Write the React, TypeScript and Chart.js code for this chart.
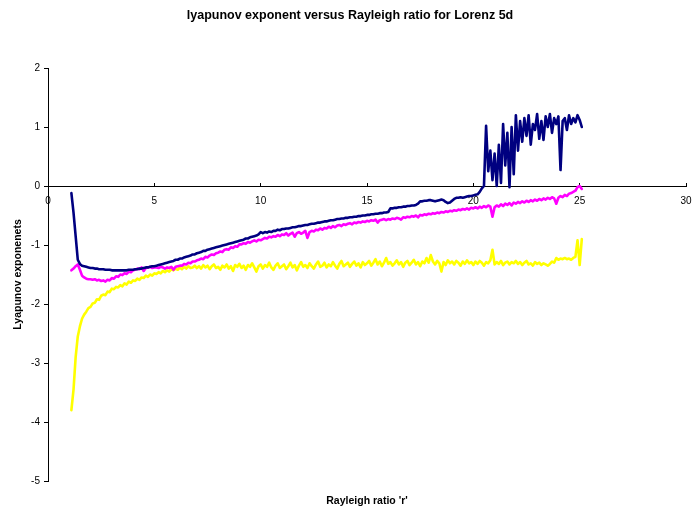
import React, { useEffect, useRef } from "react";
import { Chart, registerables } from "chart.js";

Chart.register(...registerables);

const TITLE = "lyapunov exponent versus Rayleigh ratio for Lorenz 5d";
const X_TITLE = "Rayleigh ratio 'r'";
const Y_TITLE = "Lyapunov exponenets";

const R = [
  1.1, 1.2, 1.3, 1.4, 1.5, 1.6, 1.7, 1.8, 1.9, 2.0,
  2.1, 2.2, 2.3, 2.4, 2.5, 2.6, 2.7, 2.8, 2.9, 3.0,
  3.1, 3.2, 3.3, 3.4, 3.5, 3.6, 3.7, 3.8, 3.9, 4.0,
  4.1, 4.2, 4.3, 4.4, 4.5, 4.6, 4.7, 4.8, 4.9, 5.0,
  5.1, 5.2, 5.3, 5.4, 5.5, 5.6, 5.7, 5.8, 5.9, 6.0,
  6.1, 6.2, 6.3, 6.4, 6.5, 6.6, 6.7, 6.8, 6.9, 7.0,
  7.1, 7.2, 7.3, 7.4, 7.5, 7.6, 7.7, 7.8, 7.9, 8.0,
  8.1, 8.2, 8.3, 8.4, 8.5, 8.6, 8.7, 8.8, 8.9, 9.0,
  9.1, 9.2, 9.3, 9.4, 9.5, 9.6, 9.7, 9.8, 9.9, 10.0,
  10.1, 10.2, 10.3, 10.4, 10.5, 10.6, 10.7, 10.8, 10.9, 11.0,
  11.1, 11.2, 11.3, 11.4, 11.5, 11.6, 11.7, 11.8, 11.9, 12.0,
  12.1, 12.2, 12.3, 12.4, 12.5, 12.6, 12.7, 12.8, 12.9, 13.0,
  13.1, 13.2, 13.3, 13.4, 13.5, 13.6, 13.7, 13.8, 13.9, 14.0,
  14.1, 14.2, 14.3, 14.4, 14.5, 14.6, 14.7, 14.8, 14.9, 15.0,
  15.1, 15.2, 15.3, 15.4, 15.5, 15.6, 15.7, 15.8, 15.9, 16.0,
  16.1, 16.2, 16.3, 16.4, 16.5, 16.6, 16.7, 16.8, 16.9, 17.0,
  17.1, 17.2, 17.3, 17.4, 17.5, 17.6, 17.7, 17.8, 17.9, 18.0,
  18.1, 18.2, 18.3, 18.4, 18.5, 18.6, 18.7, 18.8, 18.9, 19.0,
  19.1, 19.2, 19.3, 19.4, 19.5, 19.6, 19.7, 19.8, 19.9, 20.0,
  20.1, 20.2, 20.3, 20.4, 20.5, 20.6, 20.7, 20.8, 20.9, 21.0,
  21.1, 21.2, 21.3, 21.4, 21.5, 21.6, 21.7, 21.8, 21.9, 22.0,
  22.1, 22.2, 22.3, 22.4, 22.5, 22.6, 22.7, 22.8, 22.9, 23.0,
  23.1, 23.2, 23.3, 23.4, 23.5, 23.6, 23.7, 23.8, 23.9, 24.0,
  24.1, 24.2, 24.3, 24.4, 24.5, 24.6, 24.7, 24.8, 24.9, 25.0,
  25.1,
];

const NAVY = [
  -0.12, -0.45, -0.85, -1.25, -1.32, -1.35, -1.36, -1.37, -1.38, -1.39,
  -1.39, -1.40, -1.40, -1.41, -1.41, -1.41, -1.42, -1.42, -1.42, -1.43,
  -1.43, -1.43, -1.43, -1.43, -1.43, -1.43, -1.43, -1.42, -1.42, -1.42,
  -1.41, -1.41, -1.40, -1.40, -1.39, -1.38, -1.38, -1.37, -1.36, -1.36,
  -1.35, -1.34, -1.33, -1.32, -1.31, -1.30, -1.29, -1.28, -1.27, -1.25,
  -1.25, -1.23, -1.23, -1.21, -1.20, -1.19, -1.18, -1.16, -1.16, -1.14,
  -1.13, -1.12, -1.10, -1.10, -1.08, -1.07, -1.06, -1.05, -1.04, -1.03,
  -1.02, -1.01, -1.00, -0.99, -0.98, -0.97, -0.96, -0.95, -0.94, -0.93,
  -0.92, -0.91, -0.89, -0.89, -0.87, -0.86, -0.85, -0.84, -0.82, -0.78,
  -0.80, -0.78, -0.79, -0.77, -0.78, -0.76, -0.76, -0.74, -0.75, -0.73,
  -0.73, -0.72, -0.72, -0.71, -0.70, -0.70, -0.69, -0.68, -0.68, -0.67,
  -0.66, -0.66, -0.65, -0.64, -0.64, -0.63, -0.62, -0.62, -0.61, -0.60,
  -0.60, -0.59, -0.58, -0.58, -0.57, -0.56, -0.56, -0.55, -0.55, -0.54,
  -0.54, -0.53, -0.53, -0.52, -0.52, -0.51, -0.51, -0.50, -0.50, -0.49,
  -0.49, -0.48, -0.48, -0.47, -0.47, -0.46, -0.46, -0.45, -0.45, -0.44,
  -0.38, -0.38, -0.37, -0.37, -0.36, -0.36, -0.35, -0.35, -0.34, -0.34,
  -0.33, -0.33, -0.32, -0.30, -0.26, -0.26, -0.25, -0.25, -0.24, -0.24,
  -0.25, -0.26, -0.25, -0.24, -0.23, -0.24, -0.27, -0.29, -0.28, -0.25,
  -0.22, -0.20, -0.20, -0.19, -0.20, -0.19, -0.18, -0.17, -0.17, -0.16,
  -0.15, -0.14, -0.10, -0.04, 0.00, 1.02, 0.25, 0.60, 0.10, 0.55,
  0.00, 0.70, 0.05, 1.05, 0.35, 0.90, -0.02, 1.00, 0.20, 1.20,
  0.60, 1.10, 0.75, 1.15, 0.85, 1.20, 0.70, 1.05, 0.95, 1.22,
  0.80, 1.10, 0.78, 1.18, 1.00, 1.22, 0.90, 1.15, 1.05, 1.18,
  0.27, 1.10, 1.15, 0.95, 1.20, 1.05, 1.15, 1.08, 1.20, 1.12,
  1.00,
];

const MAGENTA = [
  -1.43, -1.40, -1.36, -1.33, -1.42, -1.52, -1.55, -1.57, -1.58, -1.58,
  -1.59, -1.58, -1.60, -1.59, -1.61, -1.60, -1.62, -1.59, -1.60, -1.56,
  -1.57, -1.53, -1.54, -1.50, -1.51, -1.48, -1.49, -1.45, -1.46, -1.43,
  -1.42, -1.40, -1.41, -1.38, -1.44, -1.39, -1.38, -1.37, -1.39, -1.38,
  -1.38, -1.39, -1.37, -1.38, -1.40, -1.38, -1.39, -1.37, -1.42, -1.37,
  -1.36, -1.35, -1.35, -1.32, -1.33, -1.30, -1.31, -1.28, -1.28, -1.26,
  -1.25, -1.23, -1.24, -1.20, -1.21, -1.18, -1.16, -1.17, -1.14, -1.13,
  -1.11, -1.12, -1.08, -1.07, -1.08, -1.04, -1.05, -1.02, -1.03, -0.99,
  -0.99, -0.97, -0.98, -0.95, -0.96, -0.94, -0.92, -0.94, -0.91, -0.92,
  -0.90, -0.88, -0.89, -0.86, -0.87, -0.85, -0.86, -0.83, -0.85, -0.82,
  -0.83, -0.80, -0.84, -0.81, -0.79, -0.86, -0.80, -0.78, -0.81, -0.79,
  -0.76, -0.88, -0.78, -0.76, -0.77, -0.74, -0.75, -0.72, -0.74, -0.71,
  -0.72, -0.69, -0.71, -0.68, -0.70, -0.67, -0.66, -0.68, -0.65, -0.66,
  -0.64, -0.63, -0.65, -0.62, -0.63, -0.61, -0.62, -0.60, -0.61, -0.59,
  -0.60, -0.58, -0.59, -0.57, -0.62, -0.58, -0.57, -0.56, -0.58, -0.56,
  -0.57, -0.55, -0.56, -0.54, -0.55, -0.57, -0.53, -0.54, -0.52, -0.53,
  -0.51, -0.52, -0.50, -0.53, -0.49, -0.50, -0.48, -0.49, -0.47, -0.48,
  -0.46, -0.47, -0.45, -0.46, -0.44, -0.45, -0.43, -0.44, -0.42, -0.43,
  -0.41, -0.42, -0.40, -0.41, -0.39, -0.40, -0.38, -0.40, -0.37, -0.38,
  -0.36, -0.38, -0.35, -0.37, -0.34, -0.36, -0.33, -0.35, -0.52, -0.36,
  -0.33, -0.35, -0.31, -0.34, -0.30, -0.32, -0.29, -0.33, -0.28, -0.30,
  -0.27, -0.29, -0.26, -0.28, -0.25, -0.27, -0.24, -0.26, -0.23, -0.25,
  -0.22, -0.24, -0.21, -0.23, -0.20, -0.22, -0.19, -0.21, -0.30, -0.20,
  -0.17, -0.19, -0.15, -0.17, -0.13, -0.12, -0.10, -0.08, -0.02, 0.00,
  -0.05,
];

const YELLOW = [
  -3.80, -3.45, -2.90, -2.55, -2.38, -2.25, -2.18, -2.13, -2.07, -2.05,
  -1.99, -1.98, -1.92, -1.93, -1.86, -1.84, -1.85, -1.79, -1.80, -1.74,
  -1.75, -1.71, -1.72, -1.68, -1.70, -1.65, -1.67, -1.62, -1.64, -1.60,
  -1.61, -1.57, -1.59, -1.55, -1.56, -1.52, -1.54, -1.50, -1.52, -1.48,
  -1.49, -1.46, -1.48, -1.44, -1.46, -1.43, -1.45, -1.41, -1.43, -1.40,
  -1.42, -1.38, -1.41, -1.37, -1.40, -1.36, -1.39, -1.38, -1.35, -1.39,
  -1.36, -1.40, -1.34, -1.38, -1.35, -1.41, -1.36, -1.33, -1.39, -1.37,
  -1.42, -1.35, -1.38, -1.33, -1.40, -1.36, -1.44, -1.34, -1.37, -1.32,
  -1.39, -1.35, -1.42, -1.34, -1.37, -1.31, -1.38, -1.45, -1.36, -1.33,
  -1.40, -1.34, -1.37, -1.30, -1.38, -1.42, -1.35, -1.31, -1.39, -1.36,
  -1.33, -1.41, -1.36, -1.30, -1.38, -1.34, -1.43, -1.35, -1.29, -1.37,
  -1.34, -1.39, -1.31, -1.36, -1.40, -1.33, -1.28, -1.37, -1.35, -1.30,
  -1.38, -1.33, -1.36, -1.29, -1.35, -1.40, -1.32, -1.27, -1.36, -1.33,
  -1.30, -1.37, -1.32, -1.28, -1.35, -1.31, -1.38, -1.29, -1.34, -1.31,
  -1.27, -1.35, -1.30, -1.24, -1.33, -1.28, -1.36, -1.30, -1.22, -1.32,
  -1.29, -1.35, -1.31, -1.26, -1.33, -1.29, -1.37, -1.30, -1.27, -1.34,
  -1.30, -1.25, -1.33, -1.29, -1.36, -1.28, -1.31, -1.22, -1.30, -1.17,
  -1.28, -1.33, -1.27, -1.31, -1.45, -1.29, -1.34, -1.26, -1.31, -1.28,
  -1.33, -1.27, -1.30, -1.35, -1.28, -1.32, -1.26, -1.31, -1.29, -1.34,
  -1.28, -1.32, -1.27, -1.30, -1.35, -1.29, -1.31, -1.26, -1.08, -1.33,
  -1.29, -1.32, -1.27, -1.34, -1.30, -1.28, -1.33, -1.29, -1.31, -1.27,
  -1.32, -1.29, -1.34, -1.30, -1.27, -1.33, -1.31, -1.35, -1.29, -1.32,
  -1.30, -1.34, -1.31, -1.33, -1.35, -1.32, -1.28, -1.30, -1.22, -1.25,
  -1.23, -1.24, -1.22, -1.24, -1.23, -1.25, -1.22, -1.20, -0.92, -1.34,
  -0.90,
];

const X_MIN = 0;
const X_MAX = 30;
const X_STEP = 5;
const Y_MIN = -5;
const Y_MAX = 2;
const Y_STEP = 1;

const FONT = "'Liberation Sans', Arial, Helvetica, sans-serif";

function toPoints(values: number[]) {
  return values.map((v, i) => ({ x: R[i], y: v }));
}

export default function App() {
  const canvasRef = useRef<HTMLCanvasElement | null>(null);

  useEffect(() => {
    const canvas = canvasRef.current;
    if (!canvas) return;
    const lineDs = (label: string, values: number[], color: string) => ({
      label,
      data: toPoints(values),
      borderColor: color,
      backgroundColor: color,
      borderWidth: 2.6,
      borderJoinStyle: "round",
      borderCapStyle: "round",
      pointRadius: 0,
      pointHoverRadius: 0,
      tension: 0,
      fill: false,
    });
    const chart = new Chart(canvas, {
      type: "line",
      data: {
        datasets: [
          lineDs("Series 1", NAVY, "#000080"),
          lineDs("Series 2", MAGENTA, "#FF00FF"),
          lineDs("Series 3", YELLOW, "#FFFF00"),
        ],
      },
      options: {
        responsive: false,
        animation: false,
        devicePixelRatio: 1,
        layout: { padding: { left: 14, right: 8, top: 0, bottom: 0 } },
        plugins: {
          legend: { display: false },
          tooltip: { enabled: false },
          title: {
            display: true,
            text: TITLE,
            color: "#000",
            font: { family: FONT, size: 12.5, weight: "bold", lineHeight: 1.2 },
            padding: { top: 8, bottom: 45 },
          },
        },
        scales: {
          x: {
            type: "linear",
            min: X_MIN,
            max: X_MAX,
            position: { y: 0 },
            ticks: {
              stepSize: X_STEP,
              color: "#000",
              font: { family: FONT, size: 10 },
              padding: 13,
              maxRotation: 0,
            },
            grid: {
              display: true,
              drawOnChartArea: false,
              drawTicks: true,
              tickLength: -4,
              color: "#000",
            },
            border: { display: true, color: "#000", width: 1 },
            afterFit: (s: any) => {
              s.height = 0;
              s.paddingLeft = 0;
              s.paddingRight = 0;
            },
          },
          x2: {
            type: "linear",
            min: X_MIN,
            max: X_MAX,
            position: "bottom",
            ticks: { display: false },
            grid: { display: false, drawTicks: false },
            border: { display: false },
            title: {
              display: true,
              text: X_TITLE,
              color: "#000",
              font: { family: FONT, size: 10.5, weight: "bold", lineHeight: 1.2 },
              padding: { top: 0, bottom: 5 },
            },
            afterFit: (s: any) => {
              s.height = 31;
              s.paddingLeft = 0;
              s.paddingRight = 0;
            },
          },
          y: {
            type: "linear",
            min: Y_MIN,
            max: Y_MAX,
            position: "left",
            ticks: {
              stepSize: Y_STEP,
              color: "#000",
              font: { family: FONT, size: 10 },
              padding: 4,
            },
            grid: {
              display: true,
              drawOnChartArea: false,
              drawTicks: true,
              tickLength: 4,
              color: "#000",
            },
            border: { display: true, color: "#000", width: 1 },
            title: {
              display: true,
              text: Y_TITLE,
              color: "#000",
              font: { family: FONT, size: 10.5, weight: "bold", lineHeight: 1.2 },
              padding: { top: -2, bottom: 0 },
            },
            afterFit: (s: any) => {
              s.width = 34;
            },
          },
        },
      } as any,
    });
    return () => chart.destroy();
  }, []);

  return (
    <div style={{ position: "fixed", left: 0, top: 0, width: 694, height: 512, background: "#fff" }}>
      <canvas ref={canvasRef} width={694} height={512} style={{ display: "block", width: 694, height: 512 }} />
    </div>
  );
}
